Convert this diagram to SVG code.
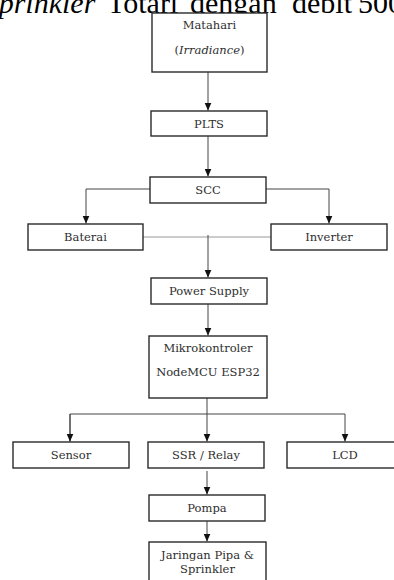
<svg xmlns="http://www.w3.org/2000/svg" width="394" height="580" viewBox="0 0 394 580">
<style>
.box{fill:#fff;stroke:#2a2a2a;stroke-width:1.4}
.t{font-family:"DejaVu Serif",serif;font-size:11.5px;fill:#2e2e2e;text-anchor:middle}
.ln{fill:none;stroke:#444;stroke-width:1}
.lg{fill:none;stroke:#999;stroke-width:1}
.hdr{font-family:"Liberation Serif",serif;font-size:30px;fill:#000}
</style>
<defs>
<marker id="ah" viewBox="0 0 8 8" refX="8" refY="4" markerWidth="8" markerHeight="8" markerUnits="userSpaceOnUse" orient="auto">
<path d="M0,0.5 L8,4 L0,7.5 Z" fill="#111"/>
</marker>
</defs>
<g id="header">
<text class="hdr" y="12.5"><tspan x="-13" font-style="italic">sprinkler</tspan><tspan x="107">Totari</tspan><tspan x="190">dengan</tspan><tspan x="292">debit</tspan><tspan x="358">500</tspan></text>
</g>
<g id="connectors">
<path class="ln" d="M208,72 V110.5" marker-end="url(#ah)"/>
<path class="ln" d="M208,136 V176.5" marker-end="url(#ah)"/>
<path class="ln" d="M150,189 H86 V223.5" marker-end="url(#ah)"/>
<path class="ln" d="M266,189 H329 V223.5" marker-end="url(#ah)"/>
<path class="lg" d="M143,237 H271"/>
<path class="ln" d="M208,235 V277.5" marker-end="url(#ah)"/>
<path class="ln" d="M208,304 V335.5" marker-end="url(#ah)"/>
<path class="ln" d="M207,398 V441.5" marker-end="url(#ah)"/>
<path class="ln" d="M70,441.5 V414 H345 V441.5" marker-end="url(#ah)"/>
<path class="ln" d="M70,414 V441.5" marker-end="url(#ah)"/>
<path class="ln" d="M207,471 V494.5" marker-end="url(#ah)"/>
<path class="ln" d="M207,521 V541.5" marker-end="url(#ah)"/>
</g>
<g id="matahari">
<rect class="box" x="152" y="13" width="115" height="59"/>
<text class="t" x="209.5" y="29">Matahari</text>
<text class="t" x="209.5" y="54">(<tspan font-style="italic">Irradiance</tspan>)</text>
</g>
<g id="plts">
<rect class="box" x="151" y="111" width="116" height="25"/>
<text class="t" x="209" y="127.5">PLTS</text>
</g>
<g id="scc">
<rect class="box" x="150" y="177" width="116" height="26"/>
<text class="t" x="208" y="194">SCC</text>
</g>
<g id="baterai">
<rect class="box" x="28" y="224" width="115" height="26"/>
<text class="t" x="85.5" y="241">Baterai</text>
</g>
<g id="inverter">
<rect class="box" x="271" y="224" width="116" height="26"/>
<text class="t" x="329" y="241">Inverter</text>
</g>
<g id="power-supply">
<rect class="box" x="151" y="278" width="116" height="26"/>
<text class="t" x="209" y="295">Power Supply</text>
</g>
<g id="mikrokontroler">
<rect class="box" x="149" y="336" width="118" height="62"/>
<text class="t" x="208" y="352">Mikrokontroler</text>
<text class="t" x="208" y="376">NodeMCU ESP32</text>
</g>
<g id="sensor">
<rect class="box" x="13" y="442" width="116" height="26"/>
<text class="t" x="71" y="459">Sensor</text>
</g>
<g id="ssr-relay">
<rect class="box" x="148" y="442" width="116" height="26"/>
<text class="t" x="206" y="458.5">SSR / Relay</text>
</g>
<g id="lcd">
<rect class="box" x="287" y="442" width="116" height="26"/>
<text class="t" x="345" y="459">LCD</text>
</g>
<g id="pompa">
<rect class="box" x="149" y="495" width="116" height="26"/>
<text class="t" x="207" y="511.5">Pompa</text>
</g>
<g id="jaringan">
<rect class="box" x="149" y="542" width="117" height="42"/>
<text class="t" x="207.5" y="559">Jaringan Pipa &amp;</text>
<text class="t" x="207.5" y="573">Sprinkler</text>
</g>
</svg>
